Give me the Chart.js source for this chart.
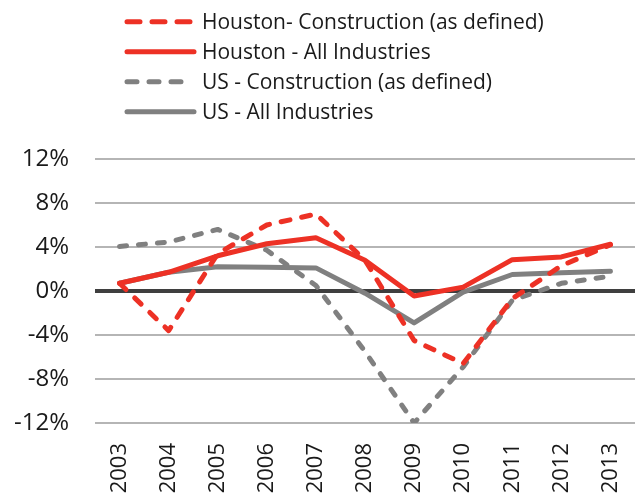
<!DOCTYPE html>
<html>
<head>
<meta charset="utf-8">
<script src="https://cdn.jsdelivr.net/npm/chart.js@4"></script>
<style>
html,body{margin:0;padding:0;background:#fff;}
#wrap{width:635px;height:495px;position:relative;}
</style>
</head>
<body>
<div id="wrap"><canvas id="c" width="635" height="495"></canvas></div>
<script>
const years = ['2003','2004','2005','2006','2007','2008','2009','2010','2011','2012','2013'];
const houstonConstruction = [0.7, -3.6, 3.4, 6.0, 7.0, 2.8, -4.5, -6.6, -0.7, 2.3, 4.2];
const houstonAll = [0.7, 1.7, 3.2, 4.3, 4.85, 2.8, -0.45, 0.35, 2.85, 3.1, 4.25];
const usConstruction = [4.05, 4.45, 5.6, 3.7, 0.5, -5.5, -12.0, -6.9, -0.85, 0.7, 1.35];
const usAll = [0.7, 1.7, 2.2, 2.15, 2.1, -0.2, -2.9, -0.1, 1.5, 1.65, 1.8];
const yTicks = [-12, -8, -4, 0, 4, 8, 12];
const seriesNames = ['Houston- Construction (as defined)', 'Houston - All Industries', 'US - Construction (as defined)', 'US - All Industries'];

const RED = '#ED3125';
const GRAY = '#808080';
const FONT = '"Open Sans", "DejaVu Sans", sans-serif';

const legendPlugin = {
  id: 'customLegend',
  afterDraw(chart) {
    const ctx = chart.ctx;
    ctx.save();
    const rows = [21.7, 51.7, 81.7, 111.7];
    chart.data.datasets.forEach((ds, i) => {
      const y = rows[i];
      ctx.beginPath();
      ctx.strokeStyle = ds.borderColor;
      ctx.lineWidth = 5;
      ctx.lineCap = 'round';
      ctx.setLineDash(ds.legendDash || []);
      ctx.moveTo(127, y);
      ctx.lineTo(ds.legendEnd || 194, y);
      ctx.stroke();
      ctx.setLineDash([]);
      ctx.fillStyle = '#1a1a1a';
      ctx.font = '21px ' + FONT;
      ctx.textBaseline = 'middle';
      ctx.textAlign = 'left';
      ctx.fillText(ds.label, 202, y + 1);
    });
    ctx.restore();
  }
};

new Chart(document.getElementById('c'), {
  type: 'line',
  data: {
    labels: years,
    datasets: [
      { label: seriesNames[0], data: houstonConstruction, borderColor: RED, borderDash: [9, 12], legendDash: [13, 12], legendEnd: 192 },
      { label: seriesNames[1], data: houstonAll, borderColor: RED },
      { label: seriesNames[2], data: usConstruction, borderColor: GRAY, borderDash: [7, 12], legendDash: [10, 12], legendEnd: 186 },
      { label: seriesNames[3], data: usAll, borderColor: GRAY }
    ].map(d => Object.assign({ borderWidth: 5, pointRadius: 0, tension: 0, fill: false, borderJoinStyle: 'round', borderCapStyle: 'round' }, d))
  },
  options: {
    responsive: false,
    animation: false,
    layout: { padding: { top: 159, left: 0, right: 0, bottom: 0 } },
    plugins: { legend: { display: false }, tooltip: { enabled: false } },
    scales: {
      x: {
        offset: true,
        grid: { display: false },
        border: { display: false },
        ticks: { color: '#1a1a1a', font: { family: FONT, size: 22 }, minRotation: 90, maxRotation: 90, padding: 12, autoSkip: false },
        afterFit(s) { s.height = 72; s.paddingRight = 0; s.paddingLeft = 0; }
      },
      y: {
        min: -12, max: 12,
        afterBuildTicks(s) { s.ticks = yTicks.map(v => ({ value: v })); },
        grid: {
          drawTicks: false,
          color: c => c.tick && c.tick.value === 0 ? '#3f3f3f' : '#b5b5b5',
          lineWidth: c => c.tick && c.tick.value === 0 ? 4 : 2
        },
        border: { display: false },
        ticks: { color: '#1a1a1a', font: { family: FONT, size: 24 }, padding: 26, callback: v => v + '%' },
        afterFit(s) { s.width = 95; }
      }
    }
  },
  plugins: [legendPlugin]
});
</script>
</body>
</html>
